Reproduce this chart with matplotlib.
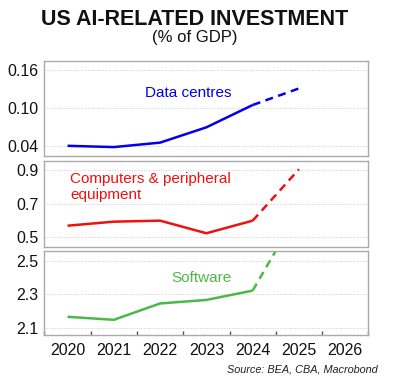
import matplotlib
matplotlib.use("Agg")
import matplotlib.pyplot as plt
import numpy as np

plt.rcParams['font.family'] = ['Liberation Sans', 'DejaVu Sans']

years = [2020, 2021, 2022, 2023, 2024, 2025]
data_centres = [0.041, 0.039, 0.046, 0.070, 0.105, 0.131]
computers = [0.569, 0.593, 0.599, 0.524, 0.599, 0.905]
software = [2.165, 2.147, 2.245, 2.266, 2.322, 2.80]
tick_years = [2020, 2021, 2022, 2023, 2024, 2025, 2026]

panels = [
    dict(vals=data_centres, color='#0000ee', ylim=(0.025, 0.174), yticks=[0.04, 0.10, 0.16],
         fmt='{:.2f}', label='Data centres', lx=2023.1, ly=0.124, ha='center',
         rect=[0.111, 0.5916, 0.81, 0.2487]),
    dict(vals=computers, color='#ee1111', ylim=(0.444, 0.954), yticks=[0.5, 0.7, 0.9],
         fmt='{:.1f}', label='Computers & peripheral\nequipment', lx=2020.56, ly=0.80, ha='left',
         rect=[0.111, 0.3542, 0.81, 0.2243]),
    dict(vals=software, color='#4cb848', ylim=(2.056, 2.559), yticks=[2.1, 2.3, 2.5],
         fmt='{:.1f}', label='Software', lx=2023.4, ly=2.397, ha='center',
         rect=[0.111, 0.1230, 0.81, 0.2199]),
]

fig = plt.figure(figsize=(4.0, 3.82), dpi=100)
fig.text(0.487, 0.949, 'US AI-RELATED INVESTMENT', ha='center', va='center',
         fontsize=15.5, fontweight='bold', color='#111111')
fig.text(0.487, 0.902, '(% of GDP)', ha='center', va='center', fontsize=12, color='#111111')

x = np.array(years) + 0.5
for i, p in enumerate(panels):
    ax = fig.add_axes(p['rect'])
    ax.plot(x[:5], p['vals'][:5], color=p['color'], lw=1.8, solid_capstyle='butt')
    ax.plot(x[4:], p['vals'][4:], color=p['color'], lw=1.8, ls=(0, (3.2, 2.2)))
    ax.set_xlim(2020, 2027)
    ax.set_ylim(*p['ylim'])
    ax.set_yticks(p['yticks'])
    ax.set_yticklabels([p['fmt'].format(v) for v in p['yticks']], fontsize=11.5, color='#111111')
    ax.tick_params(axis='y', length=0, pad=4)
    ax.grid(axis='y', color='#cccccc', lw=0.7, ls=(0, (1, 1.5)))
    for s in ax.spines.values():
        s.set_color('#aaaaaa')
        s.set_linewidth(1.0)
    ax.text(p['lx'], p['ly'], p['label'], color=p['color'], fontsize=11,
            ha=p['ha'], va='center', linespacing=1.2)
    ax.set_xticks(tick_years + [2027])
    ax.set_xticks([y + 0.5 for y in tick_years], minor=True)
    if i < 2:
        ax.tick_params(axis='x', which='both', length=0, labelbottom=False)
    else:
        ax.tick_params(axis='x', which='major', direction='in', length=3, width=1, color='#555555',
                       labelbottom=False)
        ax.set_xticklabels([str(y) for y in tick_years], minor=True)
        ax.tick_params(axis='x', which='minor', length=0, labelsize=11.5, labelcolor='#111111', pad=6)

fig.text(0.945, 0.034, 'Source: BEA, CBA, Macrobond', ha='right', va='center',
         fontsize=7.8, style='italic', color='#222222')

fig.savefig('out.png', dpi=100)
